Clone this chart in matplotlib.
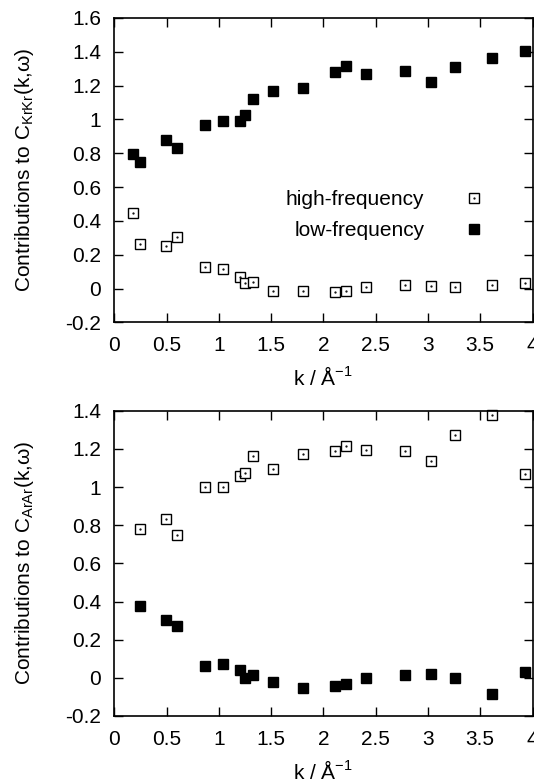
import matplotlib.pyplot as plt
from matplotlib.ticker import FuncFormatter, MultipleLocator

plt.rcParams['font.family'] = ['Liberation Sans', 'DejaVu Sans']
plt.rcParams['mathtext.fontset'] = 'custom'
plt.rcParams['mathtext.rm'] = 'Liberation Sans'

# wave vectors, 1/Angstrom
k_kr = [0.176, 0.246, 0.494, 0.597, 0.865, 1.037, 1.202, 1.247, 1.324, 1.515,
        1.802, 2.108, 2.213, 2.405, 2.781, 3.026, 3.259, 3.613, 3.925]
kr_high = [0.446, 0.266, 0.249, 0.308, 0.128, 0.114, 0.071, 0.033, 0.039, -0.014,
           -0.012, -0.018, -0.016, 0.008, 0.024, 0.015, 0.009, 0.024, 0.031]
kr_low = [0.795, 0.747, 0.877, 0.830, 0.968, 0.990, 0.990, 1.025, 1.122, 1.169,
          1.185, 1.280, 1.315, 1.268, 1.286, 1.223, 1.310, 1.363, 1.404]

k_ar = [0.246, 0.494, 0.597, 0.865, 1.037, 1.202, 1.247, 1.324, 1.515,
        1.802, 2.108, 2.213, 2.405, 2.781, 3.026, 3.259, 3.613, 3.925]
ar_high = [0.778, 0.830, 0.746, 0.998, 1.001, 1.057, 1.071, 1.162, 1.097,
           1.171, 1.190, 1.213, 1.193, 1.188, 1.136, 1.272, 1.378, 1.066]
ar_low = [0.376, 0.302, 0.271, 0.061, 0.072, 0.040, 0.0, 0.016, -0.023,
          -0.052, -0.042, -0.031, 0.0, 0.016, 0.021, 0.0, -0.087, 0.028]

FS = 15

fig = plt.figure(figsize=(5.34, 7.82), dpi=100)
ax1 = fig.add_axes([0.214, 0.5877, 0.7832, 0.3893])
ax2 = fig.add_axes([0.214, 0.0844, 0.7832, 0.3904])


def hollow(ax, x, y):
    # open square with a dot in the middle (gnuplot style)
    box, = ax.plot(x, y, 's', ms=6.5, mfc='white', mec='black', mew=1.0,
                   ls='none', clip_on=False)
    dot, = ax.plot(x, y, '.', ms=1.2, color='black', ls='none', clip_on=False)
    return (box, dot)


def filled(ax, x, y):
    h, = ax.plot(x, y, 's', ms=7.2, color='black', ls='none', clip_on=False)
    return h


h_high = hollow(ax1, k_kr, kr_high)
h_low = filled(ax1, k_kr, kr_low)
hollow(ax2, k_ar, ar_high)
filled(ax2, k_ar, ar_low)

fmt = FuncFormatter(lambda v, p: '%g' % round(v, 6))
for ax, ylim in ((ax1, (-0.2, 1.6)), (ax2, (-0.2, 1.4))):
    ax.set_xlim(0, 4)
    ax.set_ylim(*ylim)
    ax.xaxis.set_major_locator(MultipleLocator(0.5))
    ax.yaxis.set_major_locator(MultipleLocator(0.2))
    ax.xaxis.set_major_formatter(fmt)
    ax.yaxis.set_major_formatter(fmt)
    ax.tick_params(direction='in', length=6.5, width=1.0, top=True, right=True,
                   labelsize=FS, pad=9.5)
    ax.tick_params(axis='x', pad=10)
    for s in ax.spines.values():
        s.set_linewidth(1.2)
    ax.set_xlabel('k / Å$^{\\mathregular{-1}}$', fontsize=FS, labelpad=8)

ax1.set_ylabel('Contributions to C$_{\\mathregular{KrKr}}$(k,ω)', fontsize=FS,
               labelpad=21)
ax2.set_ylabel('Contributions to C$_{\\mathregular{ArAr}}$(k,ω)', fontsize=FS,
               labelpad=21)

ax1.legend([h_high, h_low], ['high-frequency', 'low-frequency'],
           loc='center right', bbox_to_anchor=(0.886, 0.352), frameon=False,
           markerfirst=False, fontsize=FS, handletextpad=1.9,
           labelspacing=0.56, handlelength=1.0, borderpad=0, borderaxespad=0)

fig.savefig('out.png', dpi=100)
